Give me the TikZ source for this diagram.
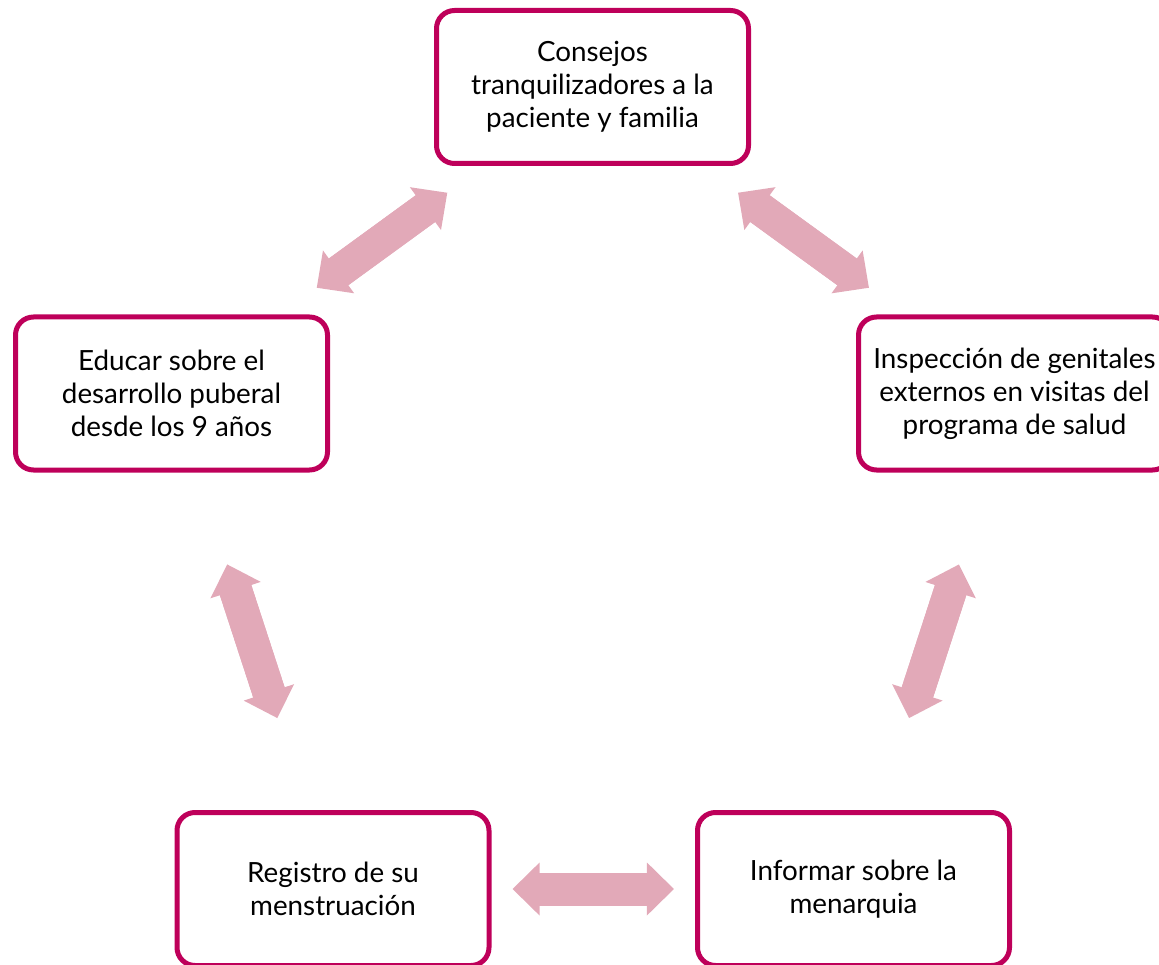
\documentclass[tikz,border=0pt]{standalone}
\usepackage{fontspec}
\setmainfont{Lato}
\usetikzlibrary{positioning,calc,arrows.meta}
\definecolor{boxpink}{RGB}{190,0,90}
\definecolor{arrowpink}{RGB}{226,169,184}
\tikzset{
  stepbox/.style={draw=boxpink, line width=5pt, rounded corners=18pt, fill=white,
    minimum width=312pt, minimum height=153pt, align=center,
    font=\fontsize{27.8}{33}\selectfont},
  dblarrow/.style={draw=arrowpink, line width=33pt,
    {Triangle[width=53pt,length=27pt,line width=0pt]}-{Triangle[width=53pt,length=27pt,line width=0pt]},
    postaction={draw=arrowpink, line width=33pt, arrows=-, shorten >=20pt, shorten <=20pt}}
}
\begin{document}
\begin{tikzpicture}[x=1pt,y=-1pt]
  \useasboundingbox (0,0) rectangle (1159,965);
  \node[stepbox] (consejos) at (592.5,87) {Consejos\\tranquilizadores a la\\paciente y familia};
  \node[stepbox] (inspeccion) at (1014.5,393.5) {Inspección de genitales\\externos en visitas del\\programa de salud};
  \node[stepbox] (informar) at (853.5,889) {Informar sobre la\\menarquia};
  \node[stepbox] (registro) at (333,889) {Registro de su\\menstruación};
  \node[stepbox] (educar) at (171.5,393.5) {Educar sobre el\\desarrollo puberal\\desde los 9 años};

  \draw[dblarrow] ($(consejos)!0.345!(educar)$) -- ($(consejos)!0.655!(educar)$);
  \draw[dblarrow] ($(consejos)!0.345!(inspeccion)$) -- ($(consejos)!0.655!(inspeccion)$);
  \draw[dblarrow] ($(inspeccion)!0.345!(informar)$) -- ($(inspeccion)!0.655!(informar)$);
  \draw[dblarrow] ($(registro)!0.345!(informar)$) -- ($(registro)!0.655!(informar)$);
  \draw[dblarrow] ($(educar)!0.345!(registro)$) -- ($(educar)!0.655!(registro)$);
\end{tikzpicture}
\end{document}
